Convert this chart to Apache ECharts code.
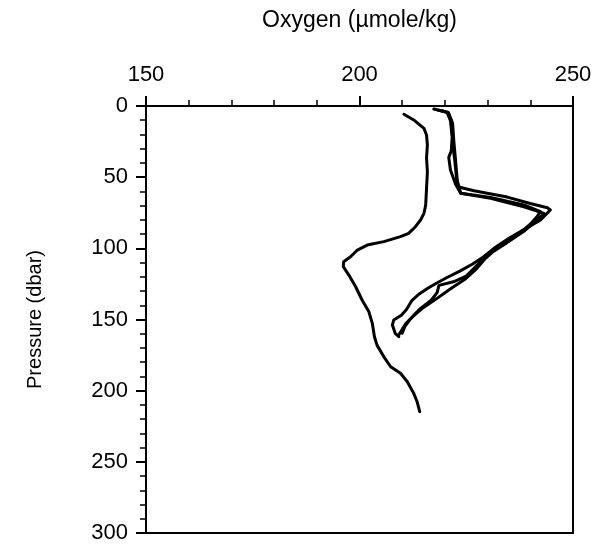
<!DOCTYPE html>
<html>
<head>
<meta charset="utf-8">
<script src="https://cdn.jsdelivr.net/npm/echarts@6/dist/echarts.min.js"></script>
<style>
  html, body { margin: 0; padding: 0; background: #fff; }
  #chart { width: 596px; height: 554px; }
</style>
</head>
<body>
<div id="chart"></div>
<script>
// Oxygen profiles: [oxygen (µmole/kg), pressure (dbar)]
var profileA = [
  [210.4, 5.8], [212.7, 9.8], [215.1, 15.7], [215.7, 20.4], [215.9, 27.4],
  [215.7, 36.5], [215.9, 46.2], [215.7, 57.8], [215.5, 69.6], [215.1, 75.4],
  [214.3, 80.1], [213.1, 84.8], [211.5, 89.5], [209.6, 91.8], [205.7, 95.3],
  [201.8, 97.7], [199.5, 101.2], [197.9, 105.9], [196.3, 109.4], [196.2, 112.9],
  [197.5, 118.8], [199.1, 127.0], [200.6, 136.3], [202.2, 144.6], [203.0, 152.7],
  [203.5, 162.1], [204.1, 168.0], [205.7, 176.2], [207.3, 183.2], [209.6, 187.8],
  [211.2, 193.7], [212.7, 201.9], [213.5, 207.8], [214.1, 214.8]
];
var profileB = [
  [218.5, 3.0], [220.8, 4.5], [221.5, 10.0], [221.8, 22.0], [222.0, 31.0],
  [222.3, 38.0], [222.7, 50.0], [223.0, 56.7], [226.8, 59.5], [234.6, 64.0],
  [240.0, 68.5], [244.0, 71.5], [244.7, 73.1], [242.4, 80.0], [239.0, 86.0],
  [235.0, 93.0], [231.5, 100.0], [229.0, 106.0], [226.5, 111.0], [223.5, 116.0],
  [220.5, 120.5], [218.0, 124.5], [216.0, 128.0], [213.8, 132.5], [212.3, 136.5],
  [211.0, 143.0], [209.8, 147.0], [208.0, 150.4], [207.7, 153.9], [208.4, 160.0],
  [209.2, 162.1]
];
var profileC = [
  [217.4, 2.1], [220.5, 4.4], [221.3, 10.3], [221.7, 22.0], [221.5, 31.4],
  [220.9, 36.1], [221.3, 45.0], [222.5, 55.0], [223.7, 61.3], [230.7, 64.9],
  [238.5, 70.8], [243.2, 75.4], [242.4, 78.0], [240.8, 82.0], [238.5, 88.0],
  [235.0, 95.0], [231.5, 101.2], [229.2, 106.0], [227.5, 112.0], [225.0, 119.5],
  [222.0, 123.5], [218.6, 126.0], [218.2, 131.0], [216.8, 136.5], [214.0, 143.0],
  [211.8, 150.0], [210.6, 155.0], [210.0, 159.7]
];
var profileD = [
  [219.5, 3.5], [220.8, 5.0], [221.8, 12.0], [222.1, 25.0], [222.5, 38.4],
  [222.9, 52.5], [223.7, 61.3], [230.7, 64.2], [238.5, 69.5], [242.4, 74.3],
  [241.5, 78.0], [240.0, 83.0], [237.7, 89.0], [234.5, 96.0], [231.0, 103.0],
  [229.5, 107.0], [227.2, 115.0], [224.8, 121.5], [221.5, 128.0], [218.0, 135.5],
  [215.0, 141.5], [212.8, 147.0], [210.8, 153.0], [209.2, 160.9]
];
var profiles = [profileA, profileB, profileC, profileD];

var oxygenTicks = [150, 200, 250];
var pressureTicks = [0, 50, 100, 150, 200, 250, 300];

var font = '"Liberation Sans", Arial, Helvetica, sans-serif';
var chart = echarts.init(document.getElementById('chart'), null, { renderer: 'canvas' });

chart.setOption({
  animation: false,
  backgroundColor: '#ffffff',
  grid: {
    left: 146, right: 23, top: 106, bottom: 21,
    show: true, borderColor: '#000', borderWidth: 2, backgroundColor: 'transparent'
  },
  xAxis: {
    type: 'value',
    position: 'top',
    min: oxygenTicks[0], max: oxygenTicks[oxygenTicks.length - 1], interval: 50,
    name: 'Oxygen (µmole/kg)',
    nameLocation: 'middle',
    nameGap: 74,
    nameTextStyle: { fontFamily: font, fontSize: 23, color: '#000' },
    axisLine: { show: true, lineStyle: { color: '#000', width: 2 } },
    axisTick: { show: true, inside: false, length: 10, lineStyle: { color: '#000', width: 2 } },
    minorTick: { show: true, splitNumber: 5, length: 6, lineStyle: { color: '#000', width: 1.5 } },
    axisLabel: { fontFamily: font, fontSize: 22, color: '#000', margin: 20 },
    splitLine: { show: false }
  },
  yAxis: {
    type: 'value',
    inverse: true,
    min: pressureTicks[0], max: pressureTicks[pressureTicks.length - 1], interval: 50,
    name: 'Pressure (dbar)',
    nameLocation: 'middle',
    nameGap: 101,
    nameTextStyle: { fontFamily: font, fontSize: 20, color: '#000' },
    axisLine: { show: true, lineStyle: { color: '#000', width: 2 } },
    axisTick: { show: true, inside: false, length: 10, lineStyle: { color: '#000', width: 2 } },
    minorTick: { show: true, splitNumber: 5, length: 6, lineStyle: { color: '#000', width: 1.5 } },
    axisLabel: { fontFamily: font, fontSize: 22, color: '#000', margin: 18 },
    splitLine: { show: false }
  },
  series: profiles.map(function (p) {
    return {
      type: 'line',
      data: p,
      showSymbol: false,
      smooth: false,
      lineStyle: { color: '#000', width: 3, join: 'round', cap: 'round' }
    };
  })
});
</script>
</body>
</html>
